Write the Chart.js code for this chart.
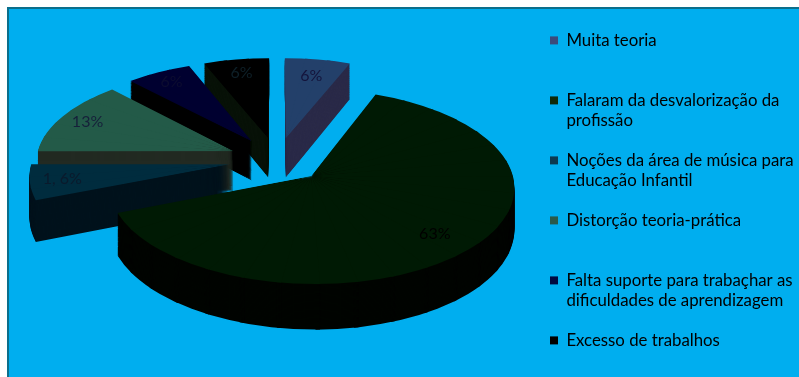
<!DOCTYPE html>
<html lang="pt">
<head>
<meta charset="utf-8">
<title>Dificuldades apontadas</title>
<script src="https://cdn.jsdelivr.net/npm/chart.js@4/dist/chart.umd.min.js"></script>
<style>
    html, body { margin: 0; background: #fff; overflow: hidden; }
    #panel {
        position: absolute; left: 7px; top: 7px; right: 0; bottom: 0;
        background: #00aeef;
        border-left: 2px solid #0b6f8c; border-top: 2px solid #0b6f8c;
    }
    #chart { position: absolute; left: 0; top: 0; }
</style>
</head>
<body>
<div id="panel"></div>
<canvas id="chart" width="799" height="377"></canvas>
<script>
// Categories and shares, in percent.
var categories = [
    ['Muita teoria', ''],
    ['Falaram da desvalorização da', 'profissão'],
    ['Noções da área de música para', 'Educação Infantil'],
    ['Distorção teoria-prática', ''],
    ['Falta suporte para trabaçhar as', 'dificuldades de aprendizagem'],
    ['Excesso de trabalhos', '']
];
var shares = [6, 63, 6, 13, 6, 6];
var shareLabels = ['6%', '63%', '1, 6%', '13%', '6%', '6%'];

var topColors = ['#23406a', '#001a04', '#002c3e', '#235a48', '#000030', '#000000'];
var wallColors = ['#2a2a48', '#000400', '#00121c', '#222a22', '#000000', '#081208'];
var swatchColors = ['#3c4a7a', '#0f2a08', '#0c3a50', '#2a5a4a', '#000a40', '#000000'];
var labelColors = ['#14143c', '#000000', '#0a1a2c', '#16203a', '#0c0c30', '#0e2028'];

// Back slices first, the big front slice last.
var drawOrder = [0, 5, 4, 3, 2, 1];
// Where each label sits along its slice, as a fraction of the radius.
var labelReach = [0.78, 0.8, 0.84, 0.85, 0.85, 0.82];

// Tilted view of the pie: unit circle to screen.
var view = { cx: 277, cy: 160, rx: 198, ry: 93, tilt: 0.105, depth: 40, explode: 0.24 };

function project(u, v, z) {
    var w = 1 - view.tilt * v;
    return {
        x: view.cx + view.rx * u / w,
        y: view.cy + (view.ry * v + view.depth * z) / w
    };
}

// Paint one slice at height z, as a fan of small affine pieces so the rim follows the tilt.
function paintSlice(ctx, arc, color, z) {
    var mid = (arc.startAngle + arc.endAngle) / 2;
    var ox = Math.cos(mid) * view.explode;
    var oy = Math.sin(mid) * view.explode;
    var R = arc.outerRadius;
    var span = arc.endAngle - arc.startAngle;
    var pieces = Math.ceil(span / (Math.PI / 18));
    var saved = arc.options;
    arc.options = Object.assign({}, saved, { backgroundColor: color });

    for (var i = 0; i < pieces; i++) {
        var t0 = arc.startAngle + span * i / pieces;
        var t1 = arc.startAngle + span * (i + 1) / pieces;
        var s0 = project(ox, oy, z);
        var s1 = project(ox + Math.cos(t0), oy + Math.sin(t0), z);
        var s2 = project(ox + Math.cos(t1), oy + Math.sin(t1), z);
        var e1x = R * Math.cos(t0), e1y = R * Math.sin(t0);
        var e2x = R * Math.cos(t1), e2y = R * Math.sin(t1);
        var det = e1x * e2y - e2x * e1y;
        var a = ((s1.x - s0.x) * e2y - (s2.x - s0.x) * e1y) / det;
        var c = ((s2.x - s0.x) * e1x - (s1.x - s0.x) * e2x) / det;
        var b = ((s1.y - s0.y) * e2y - (s2.y - s0.y) * e1y) / det;
        var d = ((s2.y - s0.y) * e1x - (s1.y - s0.y) * e2x) / det;

        ctx.save();
        ctx.transform(a, b, c, d, s0.x - a * arc.x - c * arc.y, s0.y - b * arc.x - d * arc.y);
        ctx.beginPath();
        ctx.moveTo(arc.x, arc.y);
        ctx.lineTo(arc.x + 1.3 * R * Math.cos(t0 - 0.01), arc.y + 1.3 * R * Math.sin(t0 - 0.01));
        ctx.lineTo(arc.x + 1.3 * R * Math.cos(t1 + 0.01), arc.y + 1.3 * R * Math.sin(t1 + 0.01));
        ctx.closePath();
        ctx.clip();
        arc.draw(ctx);
        ctx.restore();
    }
    arc.options = saved;
}

var tiltedPie = {
    id: 'tiltedPie',
    afterLayout: function(chart) {
        chart.legend.left = 530;
    },
    beforeDatasetsDraw: function(chart) {
        var ctx = chart.ctx;
        var arcs = chart.getDatasetMeta(0).data;
        drawOrder.forEach(function(i) {
            for (var step = view.depth; step > 0; step--) {
                paintSlice(ctx, arcs[i], wallColors[i], step / view.depth);
            }
            paintSlice(ctx, arcs[i], topColors[i], 0);
        });

        ctx.save();
        ctx.font = '16px Lato';
        ctx.textAlign = 'center';
        ctx.textBaseline = 'middle';
        drawOrder.forEach(function(i) {
            var mid = (arcs[i].startAngle + arcs[i].endAngle) / 2;
            var r = view.explode + labelReach[i];
            var p = project(r * Math.cos(mid), r * Math.sin(mid), 0);
            ctx.fillStyle = labelColors[i];
            ctx.fillText(shareLabels[i], p.x, p.y);
        });
        ctx.restore();
        return false;
    }
};

new Chart(document.getElementById('chart'), {
    type: 'pie',
    data: {
        labels: categories,
        datasets: [{ data: shares, backgroundColor: topColors, borderWidth: 0 }]
    },
    plugins: [tiltedPie],
    options: {
        responsive: false,
        animation: false,
        layout: { padding: { top: 12 } },
        plugins: {
            tooltip: { enabled: false },
            legend: {
                position: 'right',
                align: 'start',
                labels: {
                    boxWidth: 8,
                    boxHeight: 8,
                    padding: 20,
                    color: '#002f4c',
                    font: { family: 'Lato', size: 16.8, lineHeight: 20 / 16.8 },
                    generateLabels: function() {
                        return categories.map(function(text, i) {
                            return { text: text, fillStyle: swatchColors[i], lineWidth: 0, index: i };
                        });
                    }
                }
            }
        }
    }
});
</script>
</body>
</html>
